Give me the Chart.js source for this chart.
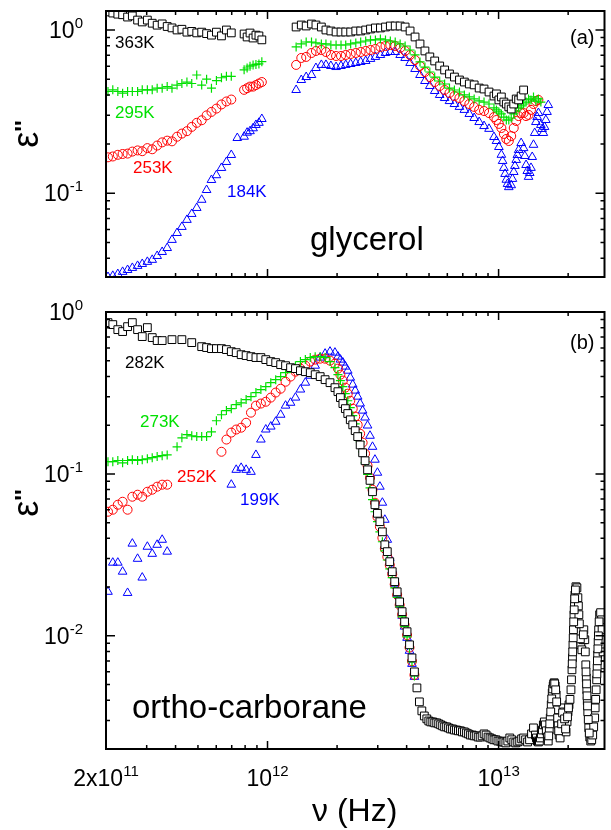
<!DOCTYPE html>
<html>
<head>
<meta charset="utf-8">
<script src="https://cdn.jsdelivr.net/npm/chart.js@4.4.0/dist/chart.umd.min.js"></script>
<style>
  html, body { margin: 0; padding: 0; background: #fff; }
  #wrap { position: relative; width: 611px; height: 830px; }
  #wrap canvas { position: absolute; left: 0; }
  #chartA { top: 0; }
  #chartB { top: 295px; }
</style>
</head>
<body>
<div id="wrap">
  <canvas id="chartA" width="611" height="295" style="width:611px;height:295px"></canvas>
  <canvas id="chartB" width="611" height="535" style="width:611px;height:535px"></canvas>
</div>
<script>
// (a) glycerol - baixa frequência (Hz)
const freqA1 = [2.04e11, 2.14e11, 2.25e11, 2.36e11, 2.48e11, 2.60e11, 2.74e11, 2.87e11, 3.02e11, 3.17e11,
  3.33e11, 3.50e11, 3.68e11, 3.86e11, 4.06e11, 4.26e11, 4.48e11, 4.70e11, 4.94e11, 5.19e11,
  5.45e11, 5.72e11, 6.01e11, 6.32e11, 6.64e11, 6.97e11,
  7.40e11, 7.92e11, 8.16e11, 8.40e11, 8.66e11, 8.91e11, 9.18e11, 9.45e11];
const g363a = [1.29, 1.27, 1.25, 1.24, 1.20, 1.22, 1.15, 1.12, 1.15, 1.10,
  1.07, 1.09, 1.05, 1.03, 1.00, 1.01, 0.97, 0.98, 0.96, 0.97,
  0.95, 0.93, 0.97, 0.92, 1.00, 0.96,
  null, 0.945, 0.906, 0.958, 0.893, 0.93, 0.92, 0.87];
const g295a = [0.42, 0.43, 0.42, 0.41, 0.42, 0.42, 0.42, 0.43, 0.43, 0.43,
  0.44, 0.44, 0.45, 0.44, 0.46, 0.47, 0.48, 0.47, 0.53, 0.46,
  0.50, 0.44, 0.49, 0.51, 0.52, 0.52,
  null, 0.57, 0.585, 0.60, 0.61, 0.615, 0.62, 0.64];
const g253a = [0.166, 0.168, 0.172, 0.174, 0.175, 0.180, 0.183, 0.181, 0.189, 0.186,
  0.196, 0.205, 0.21, 0.208, 0.222, 0.232, 0.24, 0.255, 0.27, 0.28,
  0.30, 0.315, 0.33, 0.35, 0.365, 0.375,
  null, 0.43, 0.44, 0.45, 0.45, 0.46, 0.47, 0.48];
const g184a = [0.0307, 0.0312, 0.0320, 0.0330, 0.0339, 0.0349, 0.0359, 0.0369, 0.0380, 0.0391,
  0.0413, 0.0437, 0.0462, 0.0518, 0.0571, 0.0622, 0.0687, 0.0747, 0.0813, 0.0912,
  0.1047, 0.1206, 0.129, 0.1429, 0.1555, 0.1716,
  0.218, 0.222, 0.235, 0.24, 0.25, 0.262, 0.27, 0.285];

// (a) glycerol - alta frequência (Hz)
const freqA2 = [1.33e12, 1.40e12, 1.47e12, 1.55e12, 1.62e12, 1.71e12, 1.79e12, 1.88e12, 1.98e12, 2.08e12,
  2.18e12, 2.29e12, 2.41e12, 2.53e12, 2.66e12, 2.79e12, 2.93e12, 3.08e12, 3.24e12, 3.40e12,
  3.57e12, 3.75e12, 3.94e12, 4.14e12, 4.35e12, 4.57e12, 4.80e12, 5.04e12, 5.29e12, 5.56e12,
  5.84e12, 6.13e12, 6.44e12, 6.77e12, 7.11e12, 7.47e12, 7.84e12, 8.24e12, 8.65e12, 9.09e12,
  9.55e12, 9.79e12, 1.003e13, 1.028e13, 1.054e13, 1.080e13, 1.107e13, 1.134e13, 1.163e13, 1.192e13,
  1.221e13, 1.252e13, 1.283e13, 1.315e13, 1.348e13, 1.381e13, 1.416e13, 1.450e13, 1.487e13, 1.524e13,
  1.562e13, 1.601e13, 1.641e13];
const g363b = [1.043, 1.073, 1.058, 1.088, 1.073, 1.043, 1.0, 0.986, 0.972, 0.972,
  0.972, 0.972, 0.986, 0.986, 1.0, 1.014, 1.029, 1.029, 1.043, 1.058,
  1.058, 1.058, 1.043, 0.986, 0.906, 0.821, 0.744, 0.684, 0.646, 0.602,
  0.569, 0.538, 0.515, 0.494, 0.480, 0.467, 0.461, 0.441, 0.435, 0.417,
  0.394, 0.406, 0.373, 0.389, 0.362, 0.352, 0.338, 0.328, 0.352, 0.378,
  0.373, 0.394, 0.429, null, null, null, null, null, null, null,
  null, null, null];
const g295b = [0.787, 0.821, 0.844, 0.844, 0.833, 0.821, 0.821, 0.809, 0.809, 0.809,
  0.809, 0.821, 0.833, 0.844, 0.856, 0.869, 0.869, 0.881, 0.869, 0.856,
  0.844, 0.821, 0.798, 0.754, 0.703, 0.637, 0.593, 0.553, 0.515, 0.487,
  0.467, 0.441, 0.429, 0.417, 0.400, 0.389, 0.378, 0.368, 0.362, 0.352,
  0.333, 0.324, 0.315, 0.306, 0.293, 0.281, 0.281, 0.289, 0.306, 0.319,
  0.333, 0.343, 0.352, 0.362, 0.378, 0.373, 0.389, 0.367, 0.378, 0.362,
  null, null, null];
const g253b = [0.611, 0.674, 0.684, 0.723, 0.744, 0.754, 0.733, 0.703, 0.693, 0.693,
  0.703, 0.713, 0.723, 0.733, 0.744, 0.754, 0.765, 0.787, 0.798, 0.809,
  0.798, 0.776, 0.744, 0.703, 0.655, 0.602, 0.553, 0.515, 0.480, 0.454,
  0.429, 0.411, 0.394, 0.383, 0.367, 0.352, 0.338, 0.324, 0.319, 0.310,
  0.293, 0.281, 0.266, 0.251, 0.231, 0.215, 0.209, 0.224, 0.251, 0.277,
  0.297, 0.310, 0.310, 0.297, 0.302, 0.324, 0.352, 0.367, 0.373, null,
  null, null, null];
const g184b = [0.429, 0.494, 0.515, 0.530, 0.585, 0.611, 0.611, 0.602, 0.593, 0.602,
  0.611, 0.619, 0.628, 0.637, 0.646, 0.665, 0.684, 0.703, 0.723, 0.733,
  0.733, 0.703, 0.674, 0.628, 0.577, 0.530, 0.487, 0.454, 0.423, 0.400,
  0.383, 0.367, 0.352, 0.338, 0.324, 0.306, 0.289, 0.273, 0.258, 0.248,
  0.221, 0.209, 0.192, 0.172, 0.143, 0.121, 0.109, 0.112, 0.135, 0.160,
  0.184, 0.203, 0.189, 0.149, 0.126, 0.143, 0.198, 0.273, 0.310, 0.262,
  0.234, 0.281, 0.347];
// 184K - pontos extras nos vales perto de 1.1e13
const freqA3 = [1.0407e13, 1.0666e13, 1.0930e13, 1.1481e13, 1.1767e13, 1.2059e13, 1.2987e13, 1.3311e13,
  1.3642e13, 1.3981e13, 1.4330e13, 1.4686e13, 1.5427e13, 1.5811e13, 1.6204e13];
const g184c = [0.1577, 0.1313, 0.1140, 0.1224, 0.1470, 0.1716, 0.1692, 0.1369,
  0.1331, 0.1668, 0.2340, 0.2933, 0.2476, 0.2547, 0.3147];

// (b) ortho-carborane (Hz)
const freqB = [2.04e11, 2.14e11, 2.25e11, 2.36e11, 2.48e11, 2.60e11, 2.74e11, 2.87e11, 3.02e11, 3.17e11,
  3.33e11, 3.50e11, 3.68e11, 3.86e11, 4.06e11, 4.26e11, 4.48e11, 4.70e11, 4.94e11, 5.19e11,
  5.45e11, 5.72e11, 6.01e11, 6.32e11, 6.64e11, 6.97e11, 7.32e11, 7.69e11, 8.08e11, 8.48e11,
  8.91e11, 9.36e11, 9.83e11, 1.033e12, 1.085e12, 1.140e12, 1.197e12, 1.258e12, 1.321e12, 1.388e12,
  1.458e12, 1.531e12, 1.608e12, 1.690e12, 1.775e12, 1.864e12, 1.958e12,
  2.017e12, 2.067e12, 2.119e12, 2.172e12, 2.225e12, 2.281e12, 2.338e12, 2.396e12, 2.456e12, 2.517e12,
  2.580e12, 2.644e12, 2.710e12, 2.777e12, 2.847e12, 2.917e12, 2.990e12, 3.064e12, 3.141e12, 3.219e12,
  3.299e12, 3.381e12, 3.465e12, 3.551e12, 3.640e12, 3.731e12, 3.824e12, 3.919e12, 4.017e12, 4.116e12,
  4.219e12, 4.324e12, 4.432e12, 4.542e12, 4.655e12, 4.771e12, 4.891e12];
const c282 = [0.860, 0.836, 0.778, 0.757, 0.812, 0.860, 0.778, 0.705, 0.801, 0.695,
  0.666, 0.666, null, 0.675, null, 0.675, null, 0.647, null, 0.611,
  0.603, 0.594, 0.594, 0.594, 0.586, 0.569, 0.561, 0.545, 0.538, 0.530,
  0.523, 0.523, 0.508, 0.494, 0.487, 0.473, 0.466, 0.453, 0.447, 0.434,
  0.428, 0.422, 0.410, 0.399, 0.382, 0.366, 0.341,
  0.322, 0.296, 0.272, 0.253, 0.236, 0.216, 0.201, 0.185, 0.170, 0.151,
  0.135, 0.1206, 0.106, 0.0912, 0.0776, 0.0645, 0.0571, 0.0507, 0.0439, 0.0365,
  0.0331, 0.0287, 0.0249, 0.0216, 0.0187, 0.0162, 0.0141, 0.0122, 0.0106, 0.00880,
  0.00731, 0.00599, 0.00477, 0.00391, 0.00344, 0.00320, 0.00307];
const c273 = [0.119, 0.119, 0.121, 0.117, 0.121, 0.1224, 0.121, 0.1224, 0.124, 0.126,
  0.128, 0.1296, 0.131, null, 0.147, 0.167, 0.175, 0.172, 0.170, 0.170,
  0.170, 0.182, 0.213, 0.232, 0.246, 0.253, 0.268, 0.275, 0.288, 0.300,
  0.318, 0.332, 0.346, 0.366, 0.382, 0.399, 0.422, 0.447, 0.466, 0.494,
  0.508, 0.523, 0.530, 0.530, 0.523, 0.494, 0.453,
  0.410, 0.377, 0.346, 0.313, 0.283, 0.257, 0.229, 0.204, 0.180, 0.158,
  0.137, 0.117, 0.0992, 0.0821, 0.0693, 0.0584, 0.0507, 0.0439, 0.0381, 0.0335,
  0.0294, 0.0259, 0.0229, 0.0198, 0.0173, 0.0151, 0.0131, 0.0114, 0.00986, 0.00836,
  0.00690, 0.00565, null, null, null, null, null];
const c252 = [0.0584, 0.0601, 0.0645, 0.0673, 0.0601, 0.0723, 0.0744, 0.0723, 0.0776, 0.0799,
  0.0834, 0.0858, 0.0858, null, null, null, null, null, null, null,
  null, null, null, 0.137, 0.163, 0.180, 0.188, 0.193, 0.207, 0.239,
  0.264, 0.272, 0.279, 0.296, 0.318, 0.336, 0.371, 0.399, 0.428, 0.447,
  0.466, 0.494, 0.508, 0.515, 0.515, 0.501, 0.480,
  0.447, 0.410, 0.377, 0.341, 0.313, 0.283, 0.253, 0.226, 0.201, 0.177,
  0.156, 0.1333, 0.1124, 0.0947, 0.0799, 0.0664, 0.0543, 0.0472, 0.0403, 0.0345,
  0.0308, 0.0273, 0.0240, 0.0208, 0.0179, 0.0155, 0.0135, 0.0117, 0.0101, 0.00846,
  0.00697, 0.00573, null, null, null, null, null];
const c199 = [0.0187, 0.0283, 0.0283, 0.0249, 0.0184, 0.0371, 0.0299, 0.0229, 0.0355, 0.0321,
  0.0365, 0.0392, 0.0331, null, null, null, null, null, null, null,
  null, null, null, null, null, 0.0858, 0.106, 0.109, 0.106, 0.103,
  0.131, 0.163, 0.188, 0.196, 0.210, 0.232, 0.264, 0.275, 0.296, 0.332,
  0.366, 0.404, 0.466, 0.523, 0.553, 0.569, 0.561,
  0.530, 0.508, 0.487, 0.460, 0.434, 0.393, 0.356, 0.327, 0.300, 0.272,
  0.246, 0.223, 0.199, 0.172, 0.147, 0.1224, 0.1017, 0.0834, 0.0664, 0.0521,
  0.0392, 0.0303, 0.0255, 0.0210, 0.0182, 0.0155, 0.0133, 0.0114, 0.00972, 0.00808,
  0.00671, 0.00558, null, null, null, null, null];

// (b) 282K - parte de alta frequência (só a série preta)
const freqBTail = [4.988e12, 5.087e12, 5.188e12, 5.291e12, 5.397e12, 5.504e12, 5.613e12, 5.725e12, 5.839e12, 5.955e12,
  6.073e12, 6.194e12, 6.317e12, 6.443e12, 6.571e12, 6.701e12, 6.835e12, 6.970e12, 7.109e12, 7.250e12,
  7.394e12, 7.541e12, 7.691e12, 7.844e12, 8.000e12, 8.159e12, 8.321e12, 8.487e12, 8.656e12, 8.828e12,
  9.003e12, 9.182e12, 9.365e12, 9.551e12, 9.741e12, 9.934e12, 1.0132e13, 1.0333e13, 1.0539e13, 1.0748e13,
  1.0962e13, 1.1180e13, 1.1402e13, 1.1629e13, 1.1860e13, 1.2096e13, 1.2336e13, 1.2581e13, 1.2831e13, 1.3086e13,
  1.3347e13, 1.3612e13, 1.3882e13, 1.4158e13,
  1.4435e13, 1.4578e13, 1.4722e13, 1.4868e13, 1.5015e13, 1.5163e13, 1.5313e13, 1.5465e13, 1.5618e13, 1.5772e13,
  1.5928e13, 1.6086e13, 1.6245e13, 1.6405e13, 1.6568e13, 1.6731e13, 1.6897e13, 1.7064e13, 1.7233e13, 1.7403e13,
  1.7575e13, 1.7749e13, 1.7925e13, 1.8102e13, 1.8281e13, 1.8462e13, 1.8644e13, 1.8829e13, 1.9015e13, 1.9203e13,
  1.9393e13, 1.9585e13, 1.9778e13, 1.9974e13, 2.0171e13, 2.0371e13, 2.0572e13, 2.0776e13, 2.0981e13, 2.1189e13,
  2.1398e13, 2.1610e13, 2.1824e13, 2.2039e13, 2.2257e13, 2.2477e13, 2.2700e13, 2.2924e13, 2.3151e13, 2.3380e13,
  2.3611e13, 2.3844e13, 2.4080e13, 2.4318e13, 2.4559e13, 2.4802e13, 2.5047e13, 2.5295e13, 2.5545e13, 2.5797e13,
  2.6052e13, 2.6310e13, 2.6570e13, 2.6833e13, 2.7098e13, 2.7366e13, 2.7637e13, 2.7910e13, 2.8186e13, 2.8465e13];
const c282Tail = [0.00298, 0.00294, 0.00294, 0.00290, 0.00290, 0.00286, 0.00282, 0.00278, 0.00274, 0.00274,
  0.00270, 0.00266, 0.00266, 0.00262, 0.00262, 0.00259, 0.00259, 0.00255, 0.00255, 0.00251,
  0.00248, 0.00244, 0.00244, 0.00241, 0.00241, 0.00237, 0.00237, 0.00241, 0.00248, 0.00244,
  0.00237, 0.00234, 0.00231, 0.00228, 0.00228, 0.00224, 0.00224, 0.00221, 0.00221, 0.00218,
  0.00224, 0.00234, 0.00228, 0.00221, 0.00218, 0.00221, 0.00224, 0.00231, 0.00234, 0.00228,
  0.00221, 0.00228, 0.00248, 0.00270,
  0.00244, 0.00234, 0.00224, 0.00221, 0.00224, 0.00234, 0.00248, 0.00262, 0.00282, 0.00294,
  0.00282, 0.00259, 0.00237, 0.00224, 0.00262, 0.00311, 0.00375, 0.00444, 0.00491, 0.00513,
  0.00491, 0.00432, 0.00349, 0.00282, 0.00244, 0.00234, 0.00262, 0.00311, 0.00359, 0.00339,
  0.00282, 0.00255, 0.00294, 0.00339, 0.00375, 0.00405, 0.00464, 0.00617, 0.00880, 0.0135,
  0.0179, 0.0201, 0.0198, 0.0172, 0.0135, 0.0106, 0.00880, 0.0082, 0.00946, 0.0109,
  0.00946, 0.00662, 0.00464, 0.00339, 0.00270, 0.00237, 0.00224, 0.00228, 0.00244, 0.00274,
  0.00311, 0.00405, 0.00535, 0.00763, 0.0109, 0.0135, 0.0139, 0.01256, 0.00946, 0.00662];
// 282K - pontos extras nas colunas das ressonâncias
const freqBExtra = [1.6486e13, 1.6650e13, 1.6814e13, 1.6980e13, 1.7148e13, 1.7318e13, 1.7489e13, 1.7662e13, 1.7837e13, 1.8013e13,
  1.8191e13, 1.8736e13, 1.8922e13, 1.9298e13, 1.9489e13, 1.9876e13, 2.0073e13, 2.0673e13, 2.0878e13, 2.1084e13,
  2.1293e13, 2.1504e13, 2.2148e13, 2.2367e13, 2.2588e13, 2.3265e13, 2.3727e13, 2.3962e13, 2.4199e13, 2.4438e13,
  2.4680e13, 2.6180e13, 2.6440e13, 2.6701e13, 2.6965e13, 2.7232e13, 2.8048e13, 2.8325e13,
  2.0827e13, 2.0930e13, 2.1033e13, 2.1136e13, 2.1241e13, 2.1346e13, 2.3903e13, 2.4020e13, 2.4139e13, 2.4258e13,
  2.6635e13, 2.6767e13, 2.6899e13, 2.7032e13];
const c282Extra = [0.00241, 0.00286, 0.00339, 0.00408, 0.00470, 0.00505, 0.00505, 0.00464, 0.00391, 0.00311,
  0.00259, 0.00286, 0.00334, 0.00307, 0.00266, 0.00316, 0.00359, 0.00535, 0.00731, 0.0109,
  0.0158, 0.0192, 0.0153, 0.01187, 0.00958, 0.01015, 0.00796, 0.00550, 0.00397, 0.00304,
  0.00251, 0.00359, 0.00464, 0.00634, 0.00918, 0.0122, 0.0109, 0.00796,
  0.00671, 0.00796, 0.00972, 0.0122, 0.01448, 0.01693, 0.00599, 0.00505, 0.00426, 0.00369,
  0.00582, 0.00701, 0.00831, 0.0100];

// limites dos eixos
const xMin = 2e11, xMax = 2.873e13;
const yMinA = 0.0307, yMaxA = 1.307;
const yMinB = 0.002, yMaxB = 1.0;

const FONT = '"Liberation Sans", Arial, Helvetica, sans-serif';
const VERDE = '#00e000';

// junta x e y em pontos, ignorando os vazios
function pontos(xs, ys) {
  return xs.map((x, i) => ({ x: x, y: ys[i] })).filter(p => p.y !== null);
}

// estilos de cada temperatura
const estilos = {
  preto: { pointStyle: 'rect', pointRadius: 5.5, borderColor: '#000', backgroundColor: '#fff', borderWidth: 1 },
  verde: { pointStyle: 'cross', pointRadius: 4.5, borderColor: VERDE, backgroundColor: VERDE, borderWidth: 1.2 },
  vermelho: { pointStyle: 'circle', pointRadius: 4.5, borderColor: '#ff0000', backgroundColor: 'rgba(0,0,0,0)', borderWidth: 1 },
  azul: { pointStyle: 'triangle', pointRadius: 5, borderColor: '#0000ff', backgroundColor: 'rgba(0,0,0,0)', borderWidth: 1 }
};

function serie(label, data, estilo) {
  return Object.assign({ label: label, data: data, showLine: false, clip: 0, pointHoverRadius: 0 }, estilo);
}

// marcas de um eixo log: décadas (maiores) e 2..9 (menores)
function marcasLog(min, max) {
  const out = [];
  for (let e = Math.floor(Math.log10(min)); e <= Math.ceil(Math.log10(max)); e++) {
    for (let m = 1; m < 10; m++) {
      const v = m * Math.pow(10, e);
      if (v >= min * 0.999 && v <= max * 1.001) out.push({ v: v, maior: m === 1 });
    }
  }
  return out;
}

// escreve "base" com expoente em sobrescrito
function potencia(ctx, base, exp, x, y, align) {
  ctx.font = '23px ' + FONT;
  const wb = ctx.measureText(base).width;
  ctx.font = '15px ' + FONT;
  const we = ctx.measureText(exp).width;
  let x0 = x;
  if (align === 'right') x0 = x - wb - we;
  if (align === 'center') x0 = x - (wb + we) / 2;
  ctx.textAlign = 'left';
  ctx.textBaseline = 'alphabetic';
  ctx.font = '23px ' + FONT;
  ctx.fillText(base, x0, y);
  ctx.font = '15px ' + FONT;
  ctx.fillText(exp, x0 + wb, y - 10);
}

// moldura, marcas internas e textos
const moldura = {
  id: 'moldura',
  afterDatasetsDraw(chart, args, opts) {
    const ctx = chart.ctx;
    const a = chart.chartArea;
    const sx = chart.scales.x, sy = chart.scales.y;
    ctx.save();
    ctx.strokeStyle = '#000';
    ctx.lineWidth = 1.5;
    marcasLog(sx.min, sx.max).forEach(t => {
      const px = sx.getPixelForValue(t.v);
      const len = t.maior ? 8 : 4;
      ctx.beginPath();
      ctx.moveTo(px, a.bottom); ctx.lineTo(px, a.bottom - len);
      ctx.moveTo(px, a.top); ctx.lineTo(px, a.top + len);
      ctx.stroke();
    });
    marcasLog(sy.min, sy.max).forEach(t => {
      const py = sy.getPixelForValue(t.v);
      const len = t.maior ? 9 : 4;
      ctx.beginPath();
      ctx.moveTo(a.left, py); ctx.lineTo(a.left + len, py);
      ctx.moveTo(a.right, py); ctx.lineTo(a.right - len, py);
      ctx.stroke();
    });
    ctx.lineWidth = 2;
    ctx.strokeRect(a.left, a.top, a.right - a.left, a.bottom - a.top);

    ctx.fillStyle = '#000';
    // rótulos do eixo y
    opts.yRotulos.forEach(r => {
      potencia(ctx, '10', r.exp, 83, sy.getPixelForValue(r.v) + 8, 'right');
    });
    // rótulos do eixo x
    if (opts.xRotulos) {
      opts.xRotulos.forEach(r => {
        potencia(ctx, r.base, r.exp, sx.getPixelForValue(r.v), opts.xBase, 'center');
      });
      ctx.font = '32px ' + FONT;
      ctx.textAlign = 'left';
      ctx.fillText('\u03bd (Hz)', 312, opts.xTitulo);
    }
    // título do eixo y (rotacionado)
    ctx.save();
    ctx.translate(38, opts.yTitulo);
    ctx.rotate(-Math.PI / 2);
    ctx.font = '36px ' + FONT;
    const we = ctx.measureText('\u03b5').width;
    ctx.font = 'bold 24px ' + FONT;
    const wp = ctx.measureText("''").width;
    ctx.textAlign = 'left';
    ctx.font = '36px ' + FONT;
    ctx.fillText('\u03b5', -(we + wp) / 2, 0);
    ctx.font = 'bold 24px ' + FONT;
    ctx.fillText("''", -(we + wp) / 2 + we, -6);
    ctx.restore();
    // anotações
    opts.notas.forEach(n => {
      ctx.fillStyle = n.cor;
      ctx.font = n.tam + 'px ' + FONT;
      ctx.textAlign = 'left';
      ctx.textBaseline = n.base || 'middle';
      ctx.fillText(n.txt, n.x, n.y);
    });
    ctx.restore();
  }
};

function opcoes(yMin, yMax, pad, extra) {
  return {
    responsive: false,
    maintainAspectRatio: false,
    devicePixelRatio: 1,
    animation: false,
    events: [],
    layout: { padding: pad },
    scales: {
      x: { type: 'logarithmic', min: xMin, max: xMax, bounds: 'data', display: false },
      y: { type: 'logarithmic', min: yMin, max: yMax, bounds: 'data', display: false }
    },
    plugins: { legend: { display: false }, tooltip: { enabled: false }, moldura: extra }
  };
}

// painel (a) glycerol
new Chart(document.getElementById('chartA'), {
  type: 'scatter',
  data: {
    datasets: [
      serie('363K', pontos(freqA1, g363a).concat(pontos(freqA2, g363b)), estilos.preto),
      serie('295K', pontos(freqA1, g295a).concat(pontos(freqA2, g295b)), estilos.verde),
      serie('253K', pontos(freqA1, g253a).concat(pontos(freqA2, g253b)), estilos.vermelho),
      serie('184K', pontos(freqA1, g184a).concat(pontos(freqA2, g184b), pontos(freqA3, g184c)), estilos.azul)
    ]
  },
  options: opcoes(yMinA, yMaxA, { left: 106, right: 1, top: 11, bottom: 18 }, {
    yRotulos: [{ v: 1, exp: '0' }, { v: 0.1, exp: '-1' }],
    yTitulo: 134,
    notas: [
      { txt: '363K', x: 115, y: 43, cor: '#000', tam: 17 },
      { txt: '295K', x: 115, y: 113, cor: VERDE, tam: 17 },
      { txt: '253K', x: 133, y: 168, cor: '#ff0000', tam: 17 },
      { txt: '184K', x: 227, y: 192, cor: '#0000ff', tam: 17 },
      { txt: '(a)', x: 570, y: 38, cor: '#000', tam: 20 },
      { txt: 'glycerol', x: 310, y: 250, cor: '#000', tam: 33, base: 'alphabetic' }
    ]
  }),
  plugins: [moldura]
});

// painel (b) ortho-carborane
new Chart(document.getElementById('chartB'), {
  type: 'scatter',
  data: {
    datasets: [
      serie('282K', pontos(freqB, c282).concat(pontos(freqBTail, c282Tail), pontos(freqBExtra, c282Extra)), estilos.preto),
      serie('273K', pontos(freqB, c273), estilos.verde),
      serie('252K', pontos(freqB, c252), estilos.vermelho),
      serie('199K', pontos(freqB, c199), estilos.azul)
    ]
  },
  options: opcoes(yMinB, yMaxB, { left: 106, right: 1, top: 17, bottom: 81 }, {
    yRotulos: [{ v: 1, exp: '0' }, { v: 0.1, exp: '-1' }, { v: 0.01, exp: '-2' }],
    xRotulos: [{ v: 2e11, base: '2x10', exp: '11' }, { v: 1e12, base: '10', exp: '12' }, { v: 1e13, base: '10', exp: '13' }],
    xBase: 491,
    xTitulo: 526,
    yTitulo: 208,
    notas: [
      { txt: '282K', x: 125, y: 68, cor: '#000', tam: 17 },
      { txt: '273K', x: 140, y: 127, cor: VERDE, tam: 17 },
      { txt: '252K', x: 177, y: 182, cor: '#ff0000', tam: 17 },
      { txt: '199K', x: 240, y: 205, cor: '#0000ff', tam: 17 },
      { txt: '(b)', x: 570, y: 48, cor: '#000', tam: 20 },
      { txt: 'ortho-carborane', x: 132, y: 423, cor: '#000', tam: 33, base: 'alphabetic' }
    ]
  }),
  plugins: [moldura]
});
</script>
</body>
</html>
